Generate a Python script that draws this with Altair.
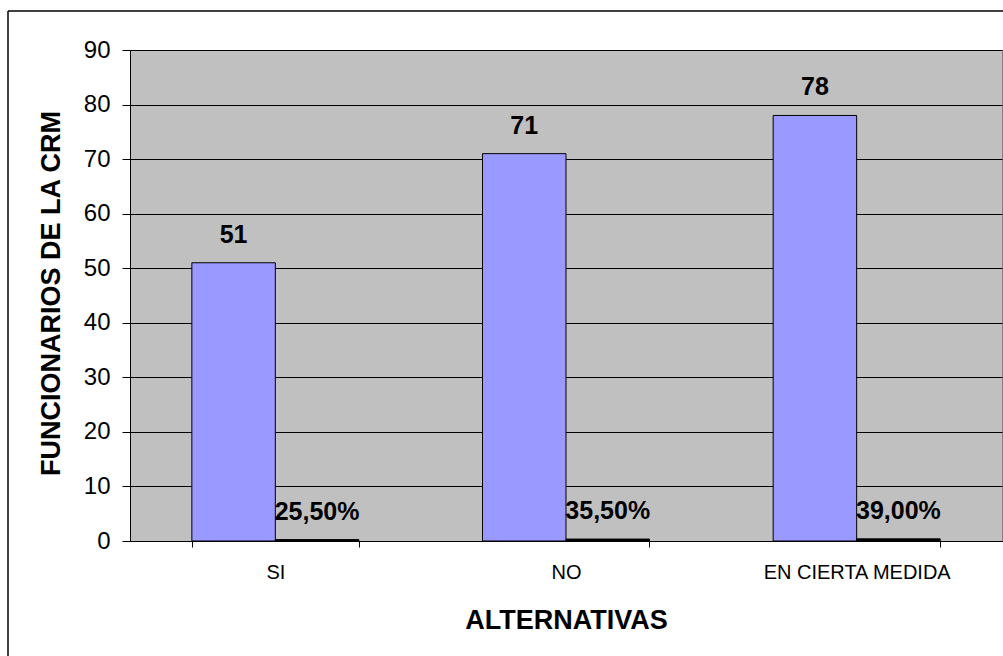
import altair as alt
import pandas as pd

# Survey answers: absolute counts and their share of the total
categorias = ["SI", "NO", "EN CIERTA MEDIDA"]
funcionarios = [51, 71, 78]
porcentajes = [0.255, 0.355, 0.39]
ticks_y = [0, 10, 20, 30, 40, 50, 60, 70, 80, 90]

FONT = "Liberation Sans"

rows = []
for c, n in zip(categorias, funcionarios):
    rows.append({"cat": c, "serie": "Funcionarios", "valor": n, "etiqueta": f"{n}"})
for c, p in zip(categorias, porcentajes):
    rows.append({"cat": c, "serie": "Porcentaje", "valor": p,
                 "etiqueta": f"{p * 100:.2f}%".replace(".", ",")})
df = pd.DataFrame(rows)

x_enc = alt.X(
    "cat:N",
    sort=categorias,
    scale=alt.Scale(paddingInner=0.4255, paddingOuter=0.2128),
    axis=alt.Axis(
        title="ALTERNATIVAS",
        titleFont=FONT, titleFontSize=27, titleFontWeight="bold", titleColor="black",
        titleY=87, titleBaseline="alphabetic",
        labelFont=FONT, labelFontSize=20, labelColor="black", labelAngle=0,
        labelLimit=400, labelPadding=15, tickSize=6, tickColor="black", tickBand="extent",
        domainColor="black", grid=False,
    ),
)
xoff = alt.XOffset("serie:N", sort=["Funcionarios", "Porcentaje"],
                   scale=alt.Scale(paddingInner=0, paddingOuter=0))
y_enc = alt.Y(
    "valor:Q",
    scale=alt.Scale(domain=[0, 90], nice=False),
    axis=alt.Axis(
        values=ticks_y,
        title="FUNCIONARIOS DE LA CRM",
        titleFont=FONT, titleFontSize=27, titleFontWeight="bold", titleColor="black",
        titleAngle=270, titleX=-71, titleY=243, titleAlign="center",
        titleBaseline="alphabetic", titleLimit=600,
        labelFont=FONT, labelFontSize=24, labelColor="black", labelPadding=12,
        tickSize=8, tickColor="black", domainColor="black",
        grid=True, gridColor="black", gridWidth=1,
    ),
)

base = alt.Chart(df).encode(x=x_enc, xOffset=xoff, y=y_enc)

barras = base.mark_bar(stroke="black", strokeWidth=1).encode(
    color=alt.Color(
        "serie:N",
        scale=alt.Scale(domain=["Funcionarios", "Porcentaje"], range=["#9999FF", "#000000"]),
        legend=None,
    )
)

etiquetas = base.mark_text(
    font=FONT, fontSize=25, fontWeight="bold", color="black",
    baseline="alphabetic", align="center", dy=-20,
).encode(text="etiqueta:N")

# Frame around the whole figure
marco = alt.Chart(pd.DataFrame({"k": [0]}))
borde_sup = marco.mark_rule(color="black", strokeWidth=1.5).encode(
    x=alt.value(-122), x2=alt.value(890), y=alt.value(-39)
)
borde_izq = marco.mark_rule(color="black", strokeWidth=1.5).encode(
    x=alt.value(-122), y=alt.value(-39), y2=alt.value(620)
)

chart = (
    alt.layer(barras, etiquetas, borde_sup, borde_izq)
    .properties(
        width=872, height=491,
        autosize=alt.AutoSizeParams(type="none"),
        padding={"left": 130, "top": 50, "right": 1, "bottom": 115},
        background="white",
    )
    .configure_view(fill="#C0C0C0", stroke="#808080", strokeWidth=1)
)

chart.save("out.html", embed_options={"renderer": "svg", "actions": False})
